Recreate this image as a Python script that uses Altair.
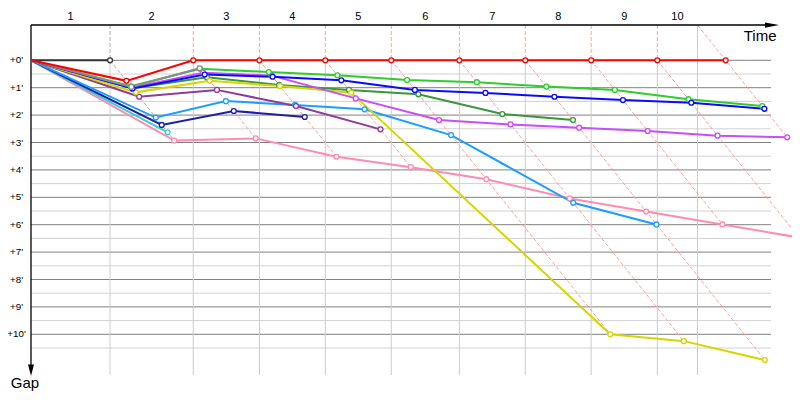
import altair as alt
import pandas as pd

# ---------------- data ----------------
# leader's lap completion times (minutes from start)
leader_lap_times = [3.61, 7.41, 10.43, 13.44, 16.45, 19.56, 22.57, 25.58, 28.60, 31.72]
lap_labels = ["1", "2", "3", "4", "5", "6", "7", "8", "9", "10"]
gap_ticks = [0, 1, 2, 3, 4, 5, 6, 7, 8, 9, 10]
gap_tick_labels = ["+0'", "+1'", "+2'", "+3'", "+4'", "+5'", "+6'", "+7'", "+8'", "+9'", "+10'"]

# gap to leader (minutes) at the end of each lap
gaps_black = [0.0]
gaps_red = [0.75, 0.0, 0.0, 0.0, 0.0, 0.0, 0.0, 0.0, 0.0, 0.0]
gaps_green = [0.95, 0.31, 0.43, 0.55, 0.72, 0.80, 0.96, 1.08, 1.42, 1.67]
gaps_blue = [1.03, 0.52, 0.60, 0.73, 1.08, 1.19, 1.33, 1.45, 1.55, 1.77]
gaps_gray = [0.97, 0.29]
gaps_magenta = [1.00, 0.45, 0.56, 1.39, 2.18, 2.34, 2.46, 2.58, 2.75, 2.81]
gaps_darkgreen = [1.02, 0.62, 0.90, 1.08, 1.24, 1.96, 2.18]
gaps_yellow = [1.17, 0.75, 0.94, 1.18, 10.00, 10.25, 10.94]
gaps_purple = [1.33, 1.08, 1.67, 2.52]
gaps_lightblue = [2.09, 1.49, 1.63, 1.79, 2.73, 5.20, 5.99]
gaps_navy = [2.36, 1.85, 2.07]
gaps_cyan = [2.63]
gaps_pink = [2.93, 2.85, 3.52, 3.90, 4.34, 5.04, 5.52, 5.99, 6.47]

# drawing order (bottom -> top)
car_order = ["pink", "cyan", "navy", "lightblue", "purple", "darkgreen", "yellow",
             "magenta", "green", "blue", "gray", "black", "red"]
car_gaps = {
    "black": gaps_black, "red": gaps_red, "green": gaps_green, "blue": gaps_blue,
    "gray": gaps_gray, "magenta": gaps_magenta, "darkgreen": gaps_darkgreen,
    "yellow": gaps_yellow, "purple": gaps_purple, "lightblue": gaps_lightblue,
    "navy": gaps_navy, "cyan": gaps_cyan, "pink": gaps_pink,
}
car_colors = {
    "black": "#333333", "red": "#ff0000", "green": "#2ecc2e", "blue": "#0a0aff",
    "gray": "#8c8c8c", "magenta": "#c94cff", "darkgreen": "#3a963a",
    "yellow": "#d6d600", "purple": "#8e3c9c", "lightblue": "#1c9eff",
    "navy": "#1e1ea6", "cyan": "#3ccccc", "pink": "#ff8cb0",
}
leader_line_colors = ["#a0a0a0"] + ["#ff9090"] * 9

# ---------------- layout constants ----------------
W, H = 784, 384
PX_X, PX_Y = 21.9, 27.4
X0 = -23 / PX_X
X1 = X0 + W / PX_X
Y0 = -52.3 / PX_Y
Y1 = Y0 + H / PX_Y
TOP = (25 - 60.3) / PX_Y          # top axis position (gap units)
BOTTOM = (375 - 60.3) / PX_Y      # bottom of vertical grid
GRID_END = (771 - 31) / PX_X      # right end of horizontal grid
ARROW_X = (779 - 31) / PX_X
ARROW_Y = (376 - 60.3) / PX_Y

XS = alt.Scale(domain=[X0, X1], nice=False, zero=False)
YS = alt.Scale(domain=[Y0, Y1], range=[0, H], nice=False, zero=False)


def X(f):
    return alt.X(f, type="quantitative", scale=XS, axis=None)


def Y(f):
    return alt.Y(f, type="quantitative", scale=YS, axis=None)


def X2(f):
    return alt.X2(f)


def Y2(f):
    return alt.Y2(f)


# ---------------- derived tables ----------------
rows = []
for name in car_order:
    rows.append(dict(car=name, lap=0, t=0.0, gap=0.0))
    for i, g in enumerate(car_gaps[name]):
        rows.append(dict(car=name, lap=i + 1, t=leader_lap_times[i] + g, gap=g))
cars_df = pd.DataFrame(rows)

n_laps = len(leader_lap_times)
max_gap = []
for k in range(n_laps):
    max_gap.append(max(g[k] for g in car_gaps.values() if len(g) > k))

last_bound = leader_lap_times[-1] + TOP
bounds = [0.0] + leader_lap_times[:-1] + [last_bound]
lap_lab_df = pd.DataFrame({
    "t": [(bounds[i] + bounds[i + 1]) / 2 for i in range(n_laps)],
    "gap": [(17 - 60.3) / PX_Y] * n_laps,
    "label": lap_labels,
})

hmajor_df = pd.DataFrame({"gap": gap_ticks, "t": 0.0, "t2": GRID_END})
hminor_df = pd.DataFrame({"gap": [g + 0.5 for g in gap_ticks], "t": 0.0, "t2": GRID_END})
vgrid_df = pd.DataFrame({
    "t": leader_lap_times[:-1] + [last_bound],
    "g1": [0.0] * (n_laps - 1) + [TOP],
    "g2": BOTTOM,
})
vdash_df = pd.DataFrame({
    "t": leader_lap_times[:-1],
    "g1": TOP, "g2": 0.0,
    "col": leader_line_colors[:-1],
})
diag_df = pd.DataFrame({
    "t1": [leader_lap_times[k] + (TOP if k == n_laps - 1 else 0.0) for k in range(n_laps)],
    "g1": [TOP if k == n_laps - 1 else 0.0 for k in range(n_laps)],
    "t2": [leader_lap_times[k] + max_gap[k] for k in range(n_laps)],
    "g2": max_gap,
    "col": leader_line_colors,
})
ylab_df = pd.DataFrame({"gap": gap_ticks, "label": gap_tick_labels,
                        "t": (16.6 - 31) / PX_X})

# ---------------- layers ----------------
layers = []
layers.append(alt.Chart(hminor_df).mark_rule(color="#d2d2d2", strokeWidth=1).encode(
    x=X("t"), x2=X2("t2"), y=Y("gap")))
layers.append(alt.Chart(hmajor_df).mark_rule(color="#808080", strokeWidth=1).encode(
    x=X("t"), x2=X2("t2"), y=Y("gap")))
layers.append(alt.Chart(vgrid_df).mark_rule(color="#cccccc", strokeWidth=1).encode(
    x=X("t"), y=Y("g1"), y2=Y2("g2")))
layers.append(alt.Chart(vdash_df).mark_rule(strokeWidth=1, strokeDash=[4, 2], opacity=0.85).encode(
    x=X("t"), y=Y("g1"), y2=Y2("g2"), color=alt.Color("col:N", scale=None)))
layers.append(alt.Chart(diag_df).mark_rule(strokeWidth=1, strokeDash=[4, 2], opacity=0.85).encode(
    x=X("t1"), y=Y("g1"), x2=X2("t2"), y2=Y2("g2"), color=alt.Color("col:N", scale=None)))

# axes lines
axis_df = pd.DataFrame({"t1": [0.0, 0.0], "g1": [TOP, TOP],
                        "t2": [ARROW_X - 0.3, 0.0], "g2": [TOP, ARROW_Y - 0.3]})
layers.append(alt.Chart(axis_df).mark_rule(color="black", strokeWidth=1.3).encode(
    x=X("t1"), y=Y("g1"), x2=X2("t2"), y2=Y2("g2")))
layers.append(alt.Chart(pd.DataFrame({"t": [ARROW_X], "gap": [TOP]})).mark_point(
    shape="M-4,-0.75L0,0L-4,0.75Z", size=49, filled=True, color="black", opacity=1,
    strokeWidth=0).encode(x=X("t"), y=Y("gap")))
layers.append(alt.Chart(pd.DataFrame({"t": [0.0], "gap": [ARROW_Y]})).mark_point(
    shape="M-0.85,-3.3L0,0L0.85,-3.3Z", size=49, filled=True, color="black", opacity=1,
    strokeWidth=0).encode(x=X("t"), y=Y("gap")))

# car lines
for name in car_order:
    layers.append(alt.Chart(cars_df).transform_filter(alt.datum.car == name).mark_line(
        color=car_colors[name], strokeWidth=2).encode(
        x=X("t"), y=Y("gap"), order=alt.Order("lap:Q")))
# car points
for name in car_order:
    layers.append(alt.Chart(cars_df).transform_filter(
        (alt.datum.car == name) & (alt.datum.lap > 0)).mark_point(
        shape="circle", size=24, filled=True, fill="white", stroke=car_colors[name],
        strokeWidth=1.3, opacity=1).encode(x=X("t"), y=Y("gap")))

# texts
layers.append(alt.Chart(lap_lab_df).mark_text(
    font="Liberation Sans", fontSize=11, color="black", baseline="middle").encode(
    x=X("t"), y=Y("gap"), text="label:N"))
layers.append(alt.Chart(ylab_df).mark_text(
    font="Liberation Sans", fontSize=9.8, color="black", baseline="middle",
    align="center").encode(x=X("t"), y=Y("gap"), text="label:N"))
layers.append(alt.Chart(pd.DataFrame({"t": [(776.5 - 31) / PX_X], "gap": [(40.7 - 60.3) / PX_Y],
                                      "label": ["Time"]})).mark_text(
    font="Liberation Sans", fontSize=15, color="black", align="right",
    baseline="alphabetic").encode(x=X("t"), y=Y("gap"), text="label:N"))
layers.append(alt.Chart(pd.DataFrame({"t": [(25 - 31) / PX_X], "gap": [(388.3 - 60.3) / PX_Y],
                                      "label": ["Gap"]})).mark_text(
    font="Liberation Sans", fontSize=15, color="black", align="center",
    baseline="alphabetic").encode(x=X("t"), y=Y("gap"), text="label:N"))

chart = alt.layer(*layers).properties(
    width=W, height=H, padding=0, autosize="none", background="white"
).configure_view(stroke=None)

chart.save("out.html", embed_options={"renderer": "svg", "actions": False})
